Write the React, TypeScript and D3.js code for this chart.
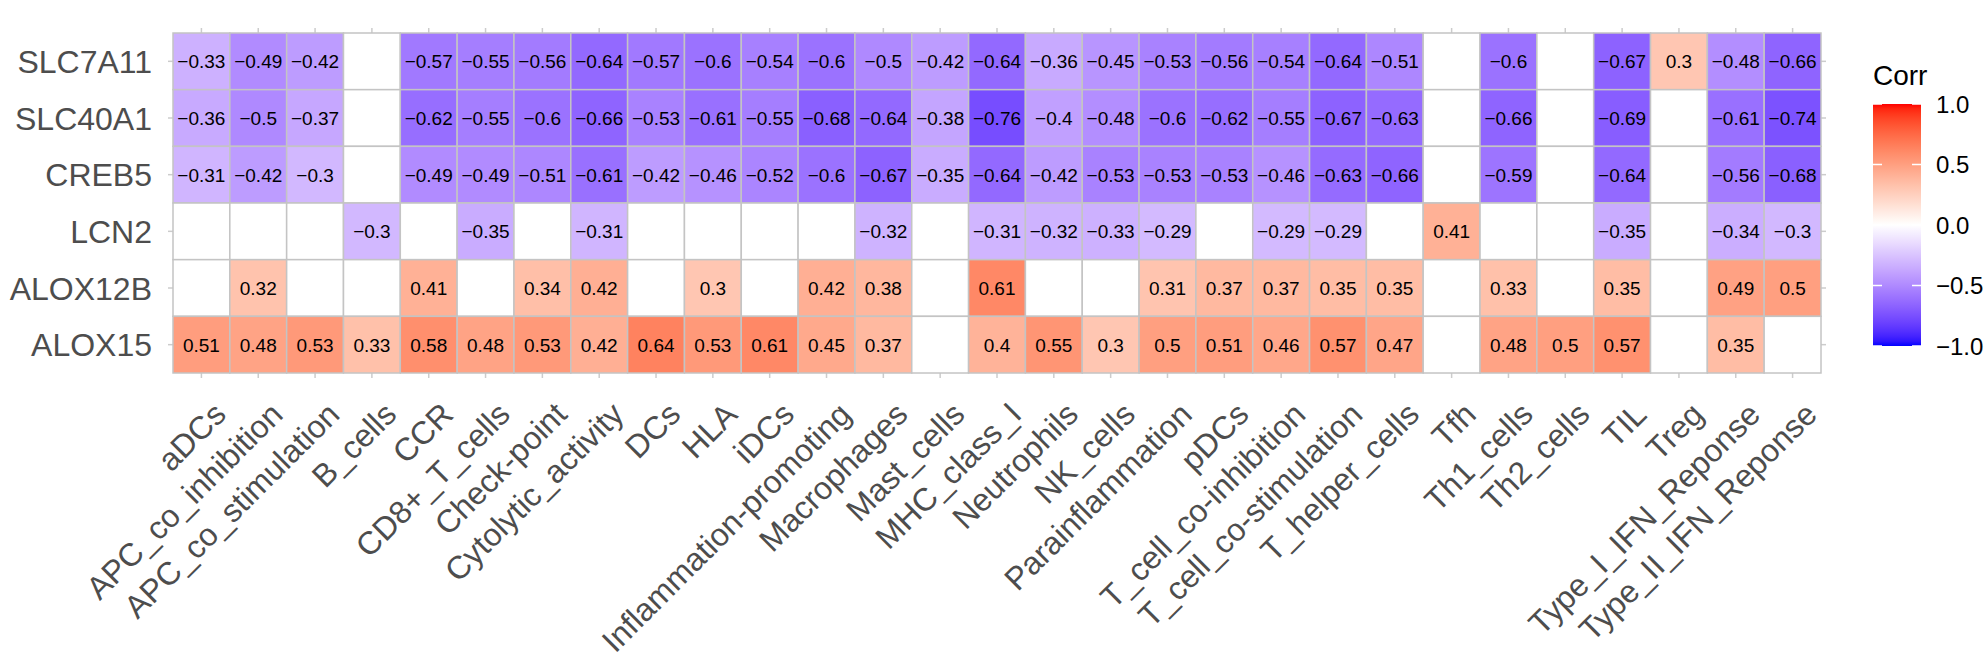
import React from "react";
import * as d3 from "d3";

const columns = [
  "aDCs", "APC_co_inhibition", "APC_co_stimulation", "B_cells", "CCR", "CD8+_T_cells",
  "Check-point", "Cytolytic_activity", "DCs", "HLA", "iDCs", "Inflammation-promoting",
  "Macrophages", "Mast_cells", "MHC_class_I", "Neutrophils", "NK_cells", "Parainflammation",
  "pDCs", "T_cell_co-inhibition", "T_cell_co-stimulation", "T_helper_cells", "Tfh",
  "Th1_cells", "Th2_cells", "TIL", "Treg", "Type_I_IFN_Reponse", "Type_II_IFN_Reponse",
];

const genes = ["SLC7A11", "SLC40A1", "CREB5", "LCN2", "ALOX12B", "ALOX15"];

const SLC7A11 = [-0.33, -0.49, -0.42, null, -0.57, -0.55, -0.56, -0.64, -0.57, -0.6, -0.54, -0.6, -0.5, -0.42, -0.64, -0.36, -0.45, -0.53, -0.56, -0.54, -0.64, -0.51, null, -0.6, null, -0.67, 0.3, -0.48, -0.66];
const SLC40A1 = [-0.36, -0.5, -0.37, null, -0.62, -0.55, -0.6, -0.66, -0.53, -0.61, -0.55, -0.68, -0.64, -0.38, -0.76, -0.4, -0.48, -0.6, -0.62, -0.55, -0.67, -0.63, null, -0.66, null, -0.69, null, -0.61, -0.74];
const CREB5 = [-0.31, -0.42, -0.3, null, -0.49, -0.49, -0.51, -0.61, -0.42, -0.46, -0.52, -0.6, -0.67, -0.35, -0.64, -0.42, -0.53, -0.53, -0.53, -0.46, -0.63, -0.66, null, -0.59, null, -0.64, null, -0.56, -0.68];
const LCN2 = [null, null, null, -0.3, null, -0.35, null, -0.31, null, null, null, null, -0.32, null, -0.31, -0.32, -0.33, -0.29, null, -0.29, -0.29, null, 0.41, null, null, -0.35, null, -0.34, -0.3];
const ALOX12B = [null, 0.32, null, null, 0.41, null, 0.34, 0.42, null, 0.3, null, 0.42, 0.38, null, 0.61, null, null, 0.31, 0.37, 0.37, 0.35, 0.35, null, 0.33, null, 0.35, null, 0.49, 0.5];
const ALOX15 = [0.51, 0.48, 0.53, 0.33, 0.58, 0.48, 0.53, 0.42, 0.64, 0.53, 0.61, 0.45, 0.37, null, 0.4, 0.55, 0.3, 0.5, 0.51, 0.46, 0.57, 0.47, null, 0.48, 0.5, 0.57, null, 0.35, null];

const geneValues: Record<string, (number | null)[]> = { SLC7A11, SLC40A1, CREB5, LCN2, ALOX12B, ALOX15 };

const legendTicks = [1.0, 0.5, 0.0, -0.5, -1.0];

const W = 1988;
const H = 659;
const FONT = "'Liberation Sans', Arial, Helvetica, sans-serif";

const fmt = (v: number) => String(v).replace("-", "\u2212");

export default function App() {
  const x = d3.scaleBand<string>().domain(columns).range([173, 1821]);
  const y = d3.scaleBand<string>().domain(genes).range([33, 373]);
  const color = d3
    .scaleLinear<string>()
    .domain([-1, 0, 1])
    .range(["#0000FF", "#FFFFFF", "#FF0000"])
    .interpolate(d3.interpolateLab);
  const ly = d3.scaleLinear().domain([-1, 1]).range([346, 104]);

  const cells: { g: string; c: string; v: number | null }[] = [];
  genes.forEach((g) => columns.forEach((c, i) => cells.push({ g, c, v: geneValues[g][i] })));

  const stops = d3.range(0, 1.0001, 0.02);
  const bx0 = 1873;
  const bx1 = 1921;
  const [x0, x1] = x.range();
  const [y0, y1] = y.range();

  return (
    <svg width={W} height={H} style={{ position: "absolute", left: 0, top: 0, background: "#fff" }} fontFamily={FONT}>
      <defs>
        <linearGradient id="lg" x1="0" y1="1" x2="0" y2="0">
          {stops.map((t) => (
            <stop key={t} offset={t} stopColor={color(-1 + 2 * t)} />
          ))}
        </linearGradient>
      </defs>
      {/* ticks */}
      {columns.map((c) => {
        const cx = (x(c) as number) + x.bandwidth() / 2;
        return (
          <g key={"t" + c} stroke="#CCCCCC" strokeWidth={1.5}>
            <line x1={cx} x2={cx} y1={y1} y2={y1 + 5} />
            <line x1={cx} x2={cx} y1={y0} y2={y0 - 5} />
          </g>
        );
      })}
      {genes.map((g) => {
        const cy = (y(g) as number) + y.bandwidth() / 2;
        return (
          <g key={"tg" + g} stroke="#CCCCCC" strokeWidth={1.5}>
            <line x1={x0} x2={x0 - 5} y1={cy} y2={cy} />
            <line x1={x1} x2={x1 + 5} y1={cy} y2={cy} />
          </g>
        );
      })}
      {/* tiles */}
      {cells.map((d) => (
        <rect
          key={d.g + d.c}
          x={x(d.c)}
          y={y(d.g)}
          width={x.bandwidth()}
          height={y.bandwidth()}
          fill={d.v === null ? "#FFFFFF" : color(d.v)}
          stroke="#C4C4C4"
          strokeWidth={1.5}
        />
      ))}
      {cells
        .filter((d) => d.v !== null)
        .map((d) => (
          <text
            key={"l" + d.g + d.c}
            x={(x(d.c) as number) + x.bandwidth() / 2}
            y={(y(d.g) as number) + y.bandwidth() / 2}
            dy="0.36em"
            textAnchor="middle"
            fontSize={19}
            fill="#000"
          >
            {fmt(d.v as number)}
          </text>
        ))}
      {/* y labels */}
      {genes.map((g) => (
        <text
          key={"yl" + g}
          x={152}
          y={(y(g) as number) + y.bandwidth() / 2}
          dy="0.36em"
          textAnchor="end"
          fontSize={32}
          fill="#4D4D4D"
        >
          {g}
        </text>
      ))}
      {/* x labels */}
      {columns.map((c) => {
        const cx = (x(c) as number) + x.bandwidth() / 2;
        return (
          <text
            key={"xl" + c}
            transform={`translate(${cx + 10},${400}) rotate(-45)`}
            dy="0.72em"
            textAnchor="end"
            fontSize={32}
            fill="#4D4D4D"
          >
            {c}
          </text>
        );
      })}
      {/* legend */}
      <text x={bx0} y={85} fontSize={28} fill="#000">
        Corr
      </text>
      <rect x={bx0} y={ly(1)} width={bx1 - bx0} height={ly(-1) - ly(1)} fill="url(#lg)" />
      {legendTicks.map((t) => (
        <g key={"lt" + t}>
          <line x1={bx0} x2={bx0 + 9} y1={ly(t)} y2={ly(t)} stroke="#fff" strokeWidth={1.5} />
          <line x1={bx1 - 9} x2={bx1} y1={ly(t)} y2={ly(t)} stroke="#fff" strokeWidth={1.5} />
          <text x={1936} y={ly(t)} dy="0.36em" fontSize={24} fill="#000">
            {t.toFixed(1).replace("-", "\u2212")}
          </text>
        </g>
      ))}
    </svg>
  );
}
